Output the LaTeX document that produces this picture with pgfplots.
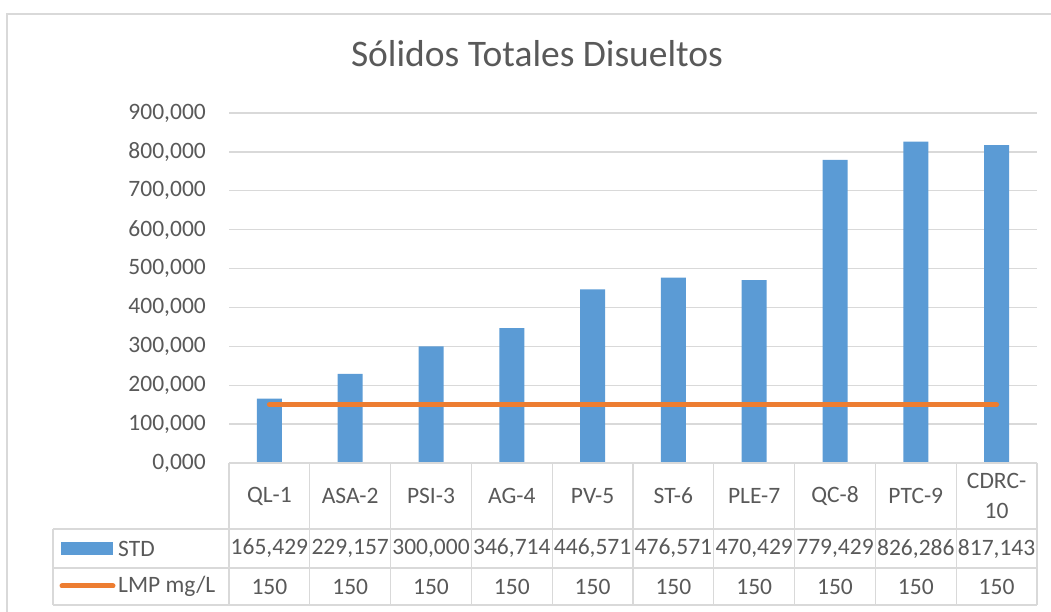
\documentclass[border=0pt]{standalone}
\usepackage{fontspec}
\setmainfont{Carlito}
\usepackage{pgfplots}
\usepackage{pgfplotstable}
\pgfplotsset{compat=1.18}
\definecolor{txtgray}{HTML}{595959}
\definecolor{gridgray}{HTML}{D9D9D9}
\definecolor{xlblue}{HTML}{5B9BD5}
\definecolor{xlorange}{HTML}{ED7D31}
\pgfplotstableread{
x std lmp
1 165.429 150
2 229.157 150
3 300.000 150
4 346.714 150
5 446.571 150
6 476.571 150
7 470.429 150
8 779.429 150
9 826.286 150
10 817.143 150
}\datatab
\begin{document}
\begin{tikzpicture}[x=1pt,y=1pt]
\path[use as bounding box] (0,0) rectangle (1051,612);
% chart frame
\draw[gridgray, line width=1.3pt] (7,-5) -- (7,598) -- (1060,598);
% title
\node[anchor=base, text=txtgray, font=\fontsize{37.5}{44}\selectfont, inner sep=0pt] at (537,545) {Sólidos Totales Disueltos};
\begin{axis}[
  at={(229pt,149pt)}, anchor=south west,
  scale only axis, width=808pt, height=350pt,
  xmin=0.5, xmax=10.5, ymin=0, ymax=900,
  clip=false,
  axis line style={draw=none},
  major tick length=0pt,
  ytick={0,100,...,900},
  xtick={1,...,10},
  xticklabels={QL-1,ASA-2,PSI-3,AG-4,PV-5,ST-6,PLE-7,QC-8,PTC-9,{CDRC-\\10}},
  ymajorgrids,
  grid style={gridgray, line width=1.3pt},
  tick label style={font=\fontsize{23.5}{30}\selectfont, text=txtgray},
  yticklabel style={anchor=east, inner sep=0pt, xshift=-23pt},
  xticklabel style={anchor=center, align=center, inner sep=0pt, yshift=-33pt},
  /pgf/number format/fixed,
  /pgf/number format/fixed zerofill,
  /pgf/number format/precision=3,
  /pgf/number format/use comma,
  /pgf/number format/1000 sep={},
  /pgf/number format/assume math mode=true,
]
\addplot[ybar, bar width=25pt, fill=xlblue, draw=none] table[x=x, y=std] {\datatab};
\addplot[sharp plot, xlorange, line width=5pt, line cap=round, mark=none] table[x=x, y=lmp] {\datatab};
% data table rows
\addplot[draw=none, mark=none, point meta=explicit,
  nodes near coords,
  every node near coord/.append style={anchor=center, yshift=-85.5pt, inner sep=0pt,
    font=\fontsize{23.5}{30}\selectfont, text=txtgray,
    /pgf/number format/fixed, /pgf/number format/fixed zerofill,
    /pgf/number format/precision=3, /pgf/number format/use comma,
    /pgf/number format/1000 sep={}, /pgf/number format/assume math mode=true}]
  table[x=x, y expr=0, meta=std] {\datatab};
\addplot[draw=none, mark=none, point meta=explicit,
  nodes near coords,
  every node near coord/.append style={anchor=center, yshift=-123.5pt, inner sep=0pt,
    font=\fontsize{23.5}{30}\selectfont, text=txtgray,
    /pgf/number format/fixed, /pgf/number format/precision=0,
    /pgf/number format/1000 sep={}, /pgf/number format/assume math mode=true}]
  table[x=x, y expr=0, meta=lmp] {\datatab};
\end{axis}
% table grid
\begin{scope}[gridgray, line width=1.3pt]
\draw (229,149) -- (1037,149);
\draw (53,83) -- (1037,83);
\draw (53,44) -- (1037,44);
\draw (53,7) -- (1037,7);
\draw (53,83) -- (53,7);
\foreach \k in {0,...,10} {\draw ({229+80.8*\k},149) -- ({229+80.8*\k},7);}
\end{scope}
% legend keys
\fill[xlblue] (61,57) rectangle (113,70);
\draw[xlorange, line width=5pt, line cap=round] (62,26) -- (113,26);
\node[anchor=west, inner sep=0pt, text=txtgray, font=\fontsize{23.5}{30}\selectfont] at (118,63.5) {STD};
\node[anchor=west, inner sep=0pt, text=txtgray, font=\fontsize{23.5}{30}\selectfont] at (118,25.5) {LMP mg/L};
\end{tikzpicture}
\end{document}
